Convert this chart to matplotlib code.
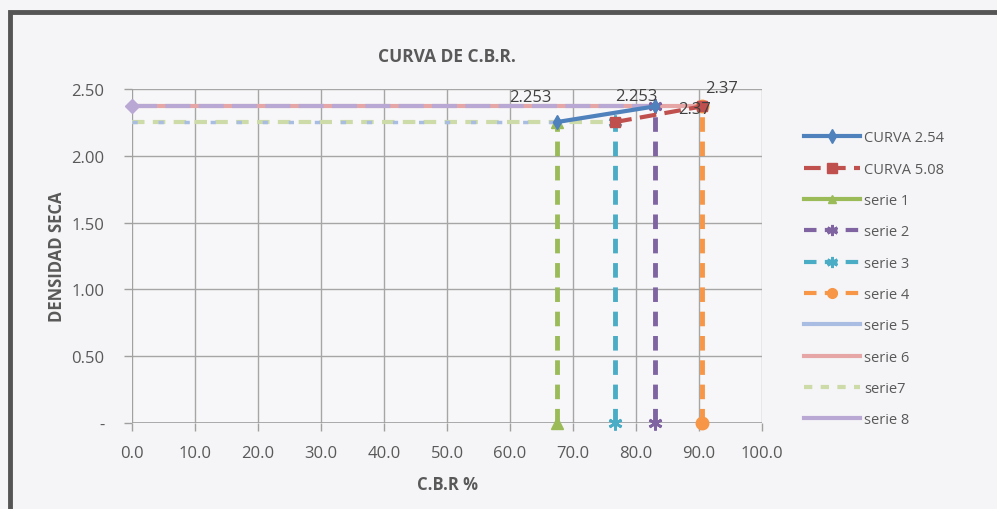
import matplotlib
matplotlib.use("Agg")
import matplotlib.pyplot as plt
from matplotlib.patches import Rectangle
from matplotlib.lines import Line2D

FONT = ["Liberation Sans Narrow", "Open Sans", "DejaVu Sans"]
plt.rcParams["font.family"] = FONT

# ── datos ─────────────────────────────────────────────────────────────
cbr_254 = [67.5, 83.0]
dens_254 = [2.253, 2.37]
cbr_508 = [76.7, 90.5]
dens_508 = [2.253, 2.37]

# verticales (serie 1-4)
s1_x, s1_y = [67.5, 67.5], [0.0, 2.253]
s2_x, s2_y = [83.0, 83.0], [0.0, 2.37]
s3_x, s3_y = [76.7, 76.7], [0.0, 2.253]
s4_x, s4_y = [90.5, 90.5], [0.0, 2.37]
# horizontales (serie 5-8)
s5_x, s5_y = [0.0, 67.5], [2.253, 2.253]
s6_x, s6_y = [0.0, 90.5], [2.37, 2.37]
s7_x, s7_y = [0.0, 76.7], [2.253, 2.253]
s8_x, s8_y = [0.0, 83.0], [2.37, 2.37]

etiquetas = ["2.253", "2.253", "2.37", "2.37"]
etq_x = [63.3, 80.0, 89.3, 93.6]
etq_y = [2.44, 2.45, 2.35, 2.51]

x_ticks = [0, 10, 20, 30, 40, 50, 60, 70, 80, 90, 100]
y_ticks = [0.0, 0.5, 1.0, 1.5, 2.0, 2.5]

C_TXT = "#595959"

fig = plt.figure(figsize=(9.97, 5.10), dpi=100)
fig.patch.set_facecolor("#f5f5f7")
# marco del gráfico (escaneado)
fig.patches.append(Rectangle((10 / 997, -0.05), 1.2, 1 - 13 / 510 + 0.05,
                             transform=fig.transFigure, fill=False,
                             edgecolor="#555555", linewidth=3.5, zorder=0))

ax = fig.add_axes([132 / 997, 1 - 424 / 510, 630 / 997, 334 / 510])
ax.set_facecolor("#f7f7f9")

# serie 5-8 (horizontales, claras)
ax.plot(s6_x, s6_y, color="#e6a6a5", lw=3, solid_capstyle="butt", zorder=2)
ax.plot(s8_x, s8_y, color="#b9a8d3", lw=3, ls=(0, (6, 2)), marker="D", markersize=7,
        markevery=[0], zorder=2, clip_on=False)
ax.plot(s7_x, s7_y, color="#cddba8", lw=3, ls=(0, (3, 2)), zorder=2)
ax.plot(s5_x, s5_y, color="#a9bde3", lw=2.5, ls=(0, (1.5, 6)), zorder=2)

# curvas
ax.plot(cbr_254, dens_254, color="#4f81bd", lw=3, marker="d", markersize=7, zorder=4)
ax.plot(cbr_508, dens_508, color="#c0504d", lw=3, ls=(0, (4, 2)), marker="s",
        markersize=7, zorder=4)

# serie 1-4 (verticales)
ax.plot(s1_x, s1_y, color="#9bbb59", lw=3.5, ls=(0, (3, 2)), marker="^", markersize=9,
        zorder=3, clip_on=False)
ax.plot(s3_x, s3_y, color="#4bacc6", lw=3.5, ls=(0, (3, 2)), marker=(6, 2, 0), markersize=10,
        markeredgewidth=2, zorder=3, clip_on=False)
ax.plot(s2_x, s2_y, color="#8064a2", lw=3.5, ls=(0, (3, 2)), marker=(6, 2, 0), markersize=10,
        markeredgewidth=2, zorder=3, clip_on=False)
ax.plot(s4_x, s4_y, color="#f79646", lw=3.5, ls=(0, (3, 2)), marker="o", markersize=9,
        zorder=3, clip_on=False)

for t, x, y in zip(etiquetas, etq_x, etq_y):
    ax.text(x, y, t, ha="center", va="center", fontsize=12, color="#404040", zorder=5)

ax.set_xlim(0, 100)
ax.set_ylim(0, 2.5)
ax.set_xticks(x_ticks)
ax.set_xticklabels([f"{v:.1f}" for v in x_ticks])
ax.set_yticks(y_ticks)
ax.set_yticklabels(["-" if v == 0 else f"{v:.2f}" for v in y_ticks])
ax.tick_params(axis="both", colors="#a0a0a0", labelcolor=C_TXT, labelsize=12, length=6,
               width=1)
ax.tick_params(axis="x", pad=10)
ax.tick_params(axis="y", pad=14)
ax.grid(True, color="#a6a6a6", lw=1)
ax.set_axisbelow(True)
for s in ax.spines.values():
    s.set_visible(False)
ax.axhline(0, color="#a0a0a0", lw=1.2, zorder=1)
ax.axvline(0, color="#a0a0a0", lw=1.2, zorder=1)

ax.set_title("CURVA DE C.B.R.", fontsize=12.5, fontweight="bold", color=C_TXT, pad=20)
ax.set_xlabel("C.B.R %", fontsize=12, fontweight="bold", color=C_TXT, labelpad=10)
ax.set_ylabel("DENSIDAD SECA", fontsize=12, fontweight="bold", color=C_TXT, labelpad=4)

# leyenda
handles = [
    Line2D([], [], color="#4f81bd", lw=3, marker="d", markersize=7),
    Line2D([], [], color="#c0504d", lw=3, ls=(0, (4, 2)), marker="s", markersize=7),
    Line2D([], [], color="#9bbb59", lw=3, marker="^", markersize=6),
    Line2D([], [], color="#8064a2", lw=3, ls=(0, (3, 2)), marker=(6, 2, 0), markersize=8, markeredgewidth=2),
    Line2D([], [], color="#4bacc6", lw=3, ls=(0, (3, 2)), marker=(6, 2, 0), markersize=8, markeredgewidth=2),
    Line2D([], [], color="#f79646", lw=3, ls=(0, (3, 2)), marker="o", markersize=7),
    Line2D([], [], color="#a9bde3", lw=3),
    Line2D([], [], color="#e6a6a5", lw=3),
    Line2D([], [], color="#cddba8", lw=3, ls=(0, (2, 2))),
    Line2D([], [], color="#b9a8d3", lw=3),
]
nombres = ["CURVA 2.54", "CURVA 5.08", "serie 1", "serie 2", "serie 3", "serie 4",
           "serie 5", "serie 6", "serie7", "serie 8"]
leg = fig.legend(handles, nombres, loc="upper left", bbox_to_anchor=(797 / 997, 1 - 124 / 510),
                 frameon=False, fontsize=10.5, handlelength=3.8, handletextpad=0.3,
                 labelspacing=1.12, borderpad=0)
for t in leg.get_texts():
    t.set_color(C_TXT)

plt.savefig("out.png", dpi=100, facecolor=fig.get_facecolor())
plt.close()
